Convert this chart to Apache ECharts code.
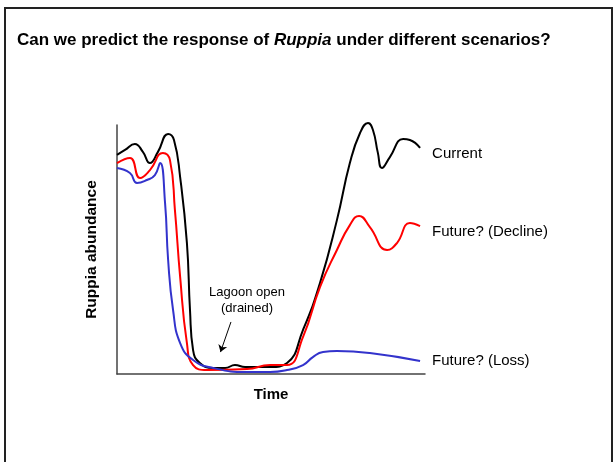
<!DOCTYPE html>
<html>
<head>
<meta charset="utf-8">
<script src="https://cdn.jsdelivr.net/npm/echarts@6/dist/echarts.min.js"></script>
<style>
  html, body { margin: 0; padding: 0; background: #fff; }
  #chart { width: 613px; height: 462px; }
</style>
</head>
<body>
<div id="chart"></div>
<script>
// time (0-100) and abundance (0-100)
var timeCurrent = [0, 2.6, 5.8, 8.4, 10.7, 13.3, 16.6, 18.5, 20.5, 22.7, 23.7, 24.7, 26.9, 31.2, 35.1, 38.3, 41.6, 49.7, 55.2, 60.4, 65.9, 71.4, 75.6, 78.9, 81.5, 83.1, 84.7, 86.0, 88.6, 92.9, 95.1, 98.4];
var abundCurrent = [88.0, 90.0, 92.4, 89.2, 84.7, 89.2, 96.4, 94.0, 79.1, 52.6, 25.7, 9.6, 4.4, 2.4, 2.4, 3.6, 2.8, 2.8, 4.4, 17.7, 36.5, 61.8, 84.7, 96.8, 100.8, 98.0, 88.8, 82.7, 87.1, 94.4, 94.0, 90.8];

var timeDecline = [0, 4.2, 7.5, 10.7, 14.9, 17.2, 18.8, 20.5, 22.7, 24.7, 29.2, 42.2, 49.7, 55.2, 60.4, 65.9, 71.4, 75.6, 78.6, 82.1, 87.7, 90.9, 95.1, 98.4];
var abundDecline = [84.7, 86.7, 78.7, 81.9, 88.8, 85.9, 65.9, 39.0, 12.4, 3.6, 1.6, 2.0, 3.6, 3.6, 14.9, 34.9, 49.8, 59.8, 63.5, 59.0, 49.8, 52.6, 60.6, 59.4];

var timeLoss = [0, 4.2, 6.5, 9.7, 12.3, 14.0, 15.6, 16.6, 18.2, 20.5, 24.7, 31.2, 42.2, 49.7, 55.2, 60.4, 63.6, 66.9, 71.4, 82.1, 98.4];
var abundLoss = [82.7, 80.7, 76.7, 77.9, 79.9, 84.7, 68.7, 45.8, 25.7, 12.4, 5.6, 2.4, 0.8, 0.8, 1.6, 3.6, 6.8, 8.8, 9.2, 8.4, 5.2];

var seriesNames = ['Current', 'Future? (Decline)', 'Future? (Loss)'];
var seriesColors = ['#000000', '#ff0000', '#3333cc'];

// arrow pointing at the drained period
var arrowFrom = [37.0, 20.9];
var arrowTo = [33.6, 8.8];

function zip(xs, ys) {
  return xs.map(function (x, i) { return [x, ys[i]]; });
}

var font = "'Liberation Sans', Arial, sans-serif";
var chart = echarts.init(document.getElementById('chart'));

var lines = [zip(timeCurrent, abundCurrent), zip(timeDecline, abundDecline), zip(timeLoss, abundLoss)];

var option = {
  animation: false,
  backgroundColor: '#fff',
  title: {
    left: 12,
    top: 27,
    text: '{b|Can we predict the response of }{i|Ruppia}{b| under different scenarios?}',
    textStyle: {
      rich: {
        b: { fontFamily: font, fontSize: 17, fontWeight: 'bold', color: '#000' },
        i: { fontFamily: font, fontSize: 17, fontWeight: 'bold', fontStyle: 'italic', color: '#000' }
      }
    }
  },
  grid: { left: 117, top: 125, width: 308, height: 249 },
  xAxis: {
    type: 'value', min: 0, max: 100,
    name: 'Time', nameLocation: 'middle', nameGap: 13,
    nameTextStyle: { fontFamily: font, fontSize: 15, fontWeight: 'bold', color: '#000' },
    axisLine: { lineStyle: { color: '#444', width: 1.5 } },
    axisTick: { show: false }, axisLabel: { show: false }, splitLine: { show: false }
  },
  yAxis: {
    type: 'value', min: 0, max: 100,
    name: 'Ruppia abundance', nameLocation: 'middle', nameGap: 17,
    nameTextStyle: { fontFamily: font, fontSize: 15.5, fontWeight: 'bold', color: '#000' },
    axisLine: { lineStyle: { color: '#444', width: 1.5 } },
    axisTick: { show: false }, axisLabel: { show: false }, splitLine: { show: false }
  },
  series: lines.map(function (d, i) {
    var s = {
      name: seriesNames[i],
      type: 'line',
      data: d,
      smooth: 0.5,
      clip: false,
      symbol: 'none',
      lineStyle: { color: seriesColors[i], width: 2 },
      endLabel: {
        show: true,
        formatter: seriesNames[i],
        distance: 12,
        fontFamily: font,
        fontSize: 15,
        color: '#000',
        offset: [0, [6, 6, 0][i]]
      }
    };
    if (i === 0) {
      s.markLine = {
        silent: true,
        symbol: ['none', 'arrow'],
        symbolSize: 7,
        lineStyle: { color: '#000', width: 1, type: 'solid' },
        label: { show: false },
        data: [[{ coord: arrowFrom }, { coord: arrowTo }]]
      };
    }
    return s;
  }),
  graphic: [
    {
      type: 'rect', silent: true,
      shape: { x: 5, y: 8, width: 607, height: 480 },
      style: { fill: 'none', stroke: '#222', lineWidth: 2 }
    },
    {
      type: 'text', silent: true, x: 247, y: 284,
      style: {
        text: 'Lagoon open\n(drained)', fontFamily: font, fontSize: 13,
        fill: '#000', align: 'center', lineHeight: 16
      }
    }
  ]
};
chart.setOption(option);
</script>
</body>
</html>
